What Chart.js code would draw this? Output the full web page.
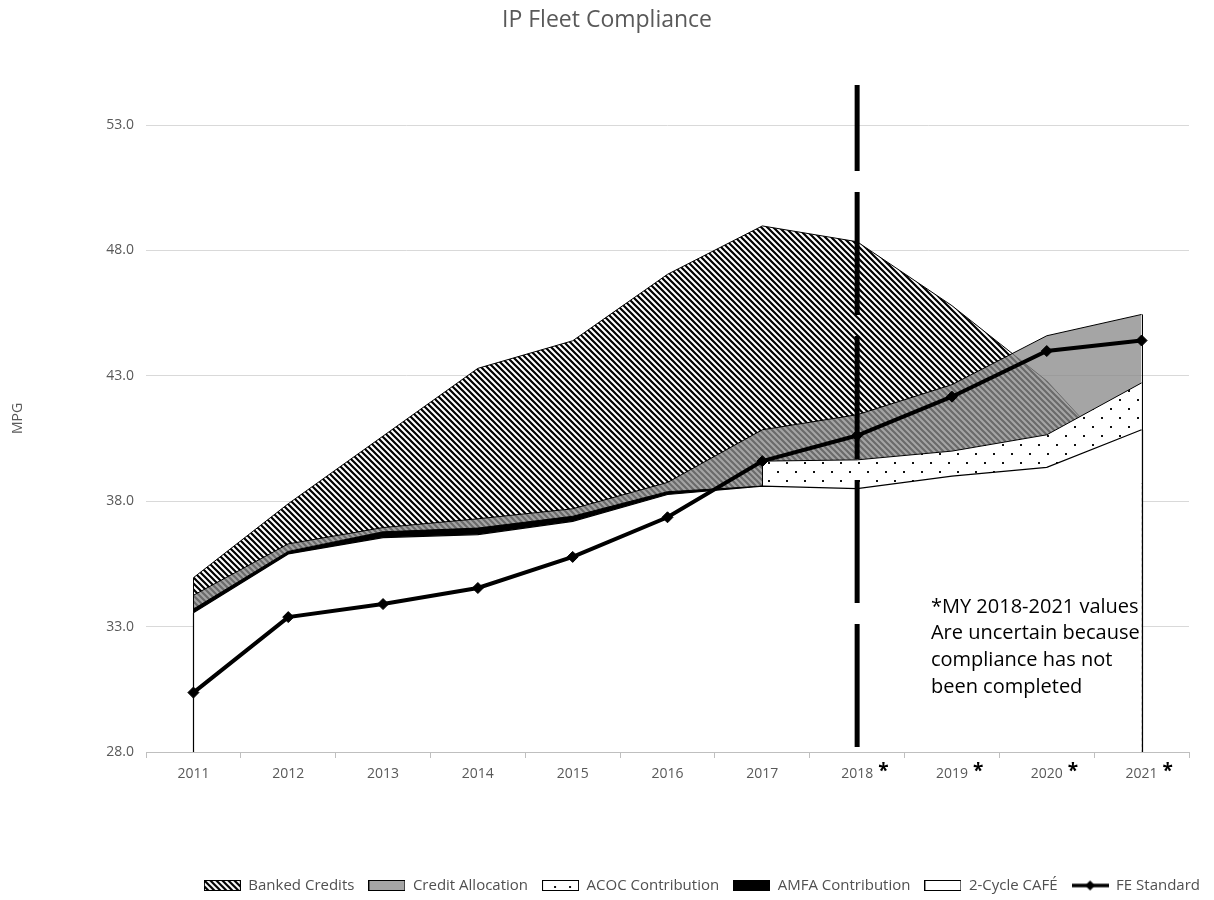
<!DOCTYPE html>
<html>
<head>
<meta charset="utf-8">
<title>IP Fleet Compliance</title>
<script src="https://cdn.jsdelivr.net/npm/chart.js@4/dist/chart.umd.min.js"></script>
<style>
  html, body { margin: 0; padding: 0; background: #ffffff; }
  #wrap { width: 1214px; height: 900px; }
</style>
</head>
<body>
<div id="wrap"><canvas id="chart" width="1214" height="900"></canvas></div>
<script>
// Model years on the category axis
const YEARS = ['2011', '2012', '2013', '2014', '2015', '2016', '2017', '2018', '2019', '2020', '2021'];
// Years whose values are still provisional (flagged with an asterisk)
const PROVISIONAL_YEARS = ['2018', '2019', '2020', '2021'];

// Cumulative MPG levels reached by each compliance component (each area is filled from the axis)
const BANKED_CREDITS      = [34.95, 37.9, 40.6, 43.3, 44.4, 47.05, 48.98, 48.35, 45.8, 42.8, 38.7];
const CREDIT_ALLOCATION   = [34.25, 36.3, 36.95, 37.3, 37.7, 38.75, 40.85, 41.45, 42.65, 44.6, 45.45];
const ACOC_CONTRIBUTION   = [null, null, null, null, null, null, 39.6, 39.65, 40.0, 40.65, 42.72];
const AMFA_CONTRIBUTION   = [33.7, 36.0, 36.78, 36.93, 37.4, 38.38, 38.6, null, null, null, null];
const TWO_CYCLE_CAFE      = [33.55, 35.9, 36.55, 36.67, 37.2, 38.27, 38.6, 38.5, 39.0, 39.35, 40.85];
// Fuel economy standard
const FE_STANDARD         = [30.37, 33.38, 33.9, 34.54, 35.78, 37.36, 39.6, 40.62, 42.17, 43.99, 44.41];

// Value axis
const Y_MIN = 28;
const Y_MAX = 54.6;
const Y_TICKS = [28, 33, 38, 43, 48, 53];

// Divider before the provisional years
const DIVIDER_YEAR = '2018';

const NOTE_LINES = ['*MY 2018-2021 values', 'Are uncertain because', 'compliance has not', 'been completed'];

Chart.defaults.font.family = "'Open Sans', 'Liberation Sans', sans-serif";
Chart.defaults.color = '#595959';

// ---- fill tiles -------------------------------------------------------
function hatchTile() {
  const s = 6;
  const c = document.createElement('canvas');
  c.width = s; c.height = s;
  const g = c.getContext('2d');
  g.fillStyle = '#ffffff';
  g.fillRect(0, 0, s, s);
  g.strokeStyle = '#000000';
  g.lineWidth = 2.2;
  g.beginPath();
  for (let k = -1; k <= 1; k++) {
    g.moveTo(k * s - 1, -1);
    g.lineTo(k * s + s + 1, s + 1);
  }
  g.stroke();
  return c;
}

function dotTile() {
  const s = 18;
  const c = document.createElement('canvas');
  c.width = s; c.height = s;
  const g = c.getContext('2d');
  g.fillStyle = '#ffffff';
  g.fillRect(0, 0, s, s);
  g.fillStyle = '#111111';
  g.fillRect(3, 3, 2, 2);
  g.fillRect(12, 12, 2, 2);
  return c;
}

const HATCH = hatchTile();
const DOTS = dotTile();
const ALLOC_GRAY = 'rgba(138,138,138,0.77)';

const canvas = document.getElementById('chart');
const ctx = canvas.getContext('2d');
const hatchFill = ctx.createPattern(HATCH, 'repeat');
const dotFill = ctx.createPattern(DOTS, 'repeat');

// ---- legend swatches --------------------------------------------------
function areaSwatch(paint) {
  const c = document.createElement('canvas');
  c.width = 37; c.height = 11;
  const g = c.getContext('2d');
  g.fillStyle = '#ffffff';
  g.fillRect(0, 0, 37, 11);
  paint(g);
  g.strokeStyle = '#000000';
  g.lineWidth = 1;
  g.strokeRect(0.5, 0.5, 36, 10);
  return c;
}

function lineSwatch() {
  const c = document.createElement('canvas');
  c.width = 37; c.height = 12;
  const g = c.getContext('2d');
  g.strokeStyle = '#000000';
  g.lineWidth = 3.5;
  g.beginPath();
  g.moveTo(0, 6); g.lineTo(37, 6);
  g.stroke();
  g.fillStyle = '#000000';
  g.beginPath();
  g.moveTo(18.5, 1); g.lineTo(23.5, 6); g.lineTo(18.5, 11); g.lineTo(13.5, 6);
  g.closePath();
  g.fill();
  return c;
}

const SWATCHES = [
  areaSwatch(g => { g.fillStyle = g.createPattern(HATCH, 'repeat'); g.fillRect(0, 0, 37, 11); }),
  areaSwatch(g => { g.fillStyle = ALLOC_GRAY; g.fillRect(0, 0, 37, 11); }),
  areaSwatch(g => { g.fillStyle = '#111'; g.fillRect(12, 6, 2, 2); g.fillRect(27, 6, 2, 2); }),
  areaSwatch(g => { g.fillStyle = '#000000'; g.fillRect(0, 0, 37, 11); }),
  areaSwatch(() => {}),
  lineSwatch()
];

// ---- plugins ----------------------------------------------------------
// Closes each filled area with its vertical end edges, as the areas are outlined polygons.
const areaEdges = {
  id: 'areaEdges',
  afterDatasetDraw(chart, args) {
    const ds = chart.data.datasets[args.index];
    if (!ds.closeEdges) return;
    const pts = args.meta.data.filter(p => !p.skip);
    if (!pts.length) return;
    const bottom = chart.scales.y.bottom;
    const c = chart.ctx;
    const a = chart.chartArea;
    c.save();
    c.beginPath();
    c.rect(a.left, a.top, a.right - a.left, a.bottom - a.top);
    c.clip();
    c.strokeStyle = ds.borderColor;
    c.lineWidth = ds.borderWidth;
    c.beginPath();
    [pts[0], pts[pts.length - 1]].forEach(p => {
      const x = Math.round(p.x) + 0.5;
      c.moveTo(x, p.y);
      c.lineTo(x, bottom);
    });
    c.stroke();
    c.restore();
  }
};

// Asterisks on the provisional year labels and the explanatory note.
const notes = {
  id: 'notes',
  afterDraw(chart) {
    const x = chart.scales.x;
    const y = chart.scales.y;
    const c = chart.ctx;
    c.save();
    c.fillStyle = '#000000';
    c.font = "bold 19px 'Open Sans', sans-serif";
    c.textAlign = 'left';
    c.textBaseline = 'middle';
    PROVISIONAL_YEARS.forEach(yr => {
      const px = x.getPixelForValue(YEARS.indexOf(yr));
      c.fillText('*', px + 21, x.top + 20);
    });
    c.font = "20px 'Open Sans', sans-serif";
    const left = x.getPixelForValue(YEARS.indexOf('2019')) - 21;
    const top = y.getPixelForValue(33.78);
    NOTE_LINES.forEach((line, i) => c.fillText(line, left, top + i * 26.7));
    c.restore();
  }
};

// ---- chart ------------------------------------------------------------
new Chart(ctx, {
  type: 'line',
  data: {
    labels: YEARS,
    datasets: [
      { label: 'Banked Credits', data: BANKED_CREDITS, backgroundColor: hatchFill, borderColor: '#000000', borderWidth: 1, fill: 'start', pointRadius: 0, order: 6, closeEdges: true },
      { label: 'Credit Allocation', data: CREDIT_ALLOCATION, backgroundColor: ALLOC_GRAY, borderColor: '#000000', borderWidth: 1, fill: 'start', pointRadius: 0, order: 5, closeEdges: true },
      { label: 'ACOC Contribution', data: ACOC_CONTRIBUTION, backgroundColor: dotFill, borderColor: '#000000', borderWidth: 1, fill: 'start', pointRadius: 0, order: 4, closeEdges: true },
      { label: 'AMFA Contribution', data: AMFA_CONTRIBUTION, backgroundColor: '#000000', borderColor: '#000000', borderWidth: 1, fill: 'start', pointRadius: 0, order: 3 },
      { label: '2-Cycle CAFÉ', data: TWO_CYCLE_CAFE, backgroundColor: '#ffffff', borderColor: '#000000', borderWidth: 1.2, fill: 'start', pointRadius: 0, order: 2, closeEdges: true },
      { label: 'FE Standard', data: FE_STANDARD, borderColor: '#000000', backgroundColor: '#000000', borderWidth: 4, fill: false,
        pointStyle: 'rectRot', pointRadius: 5.5, pointBackgroundColor: '#000000', pointBorderColor: '#000000', pointBorderWidth: 1, order: 1 },
      { label: 'divider', data: [{ x: DIVIDER_YEAR, y: Y_MIN }, { x: DIVIDER_YEAR, y: Y_MAX }], borderColor: '#000000', borderWidth: 5,
        borderDash: [123, 21], borderDashOffset: 139, borderCapStyle: 'butt', pointRadius: 0, fill: false, order: 0 }
    ]
  },
  options: {
    responsive: false,
    animation: false,
    events: [],
    layout: { padding: { left: 0, right: 0, top: 0, bottom: -3 } },
    scales: {
      x: {
        offset: true,
        grid: { offset: true, drawOnChartArea: false, drawTicks: true, tickLength: 6, color: '#bfbfbf' },
        border: { display: true, color: '#bfbfbf', width: 1 },
        ticks: { color: '#595959', font: { size: 14 }, padding: 8, maxRotation: 0, autoSkip: false },
        afterFit(s) { s.height = 112; }
      },
      y: {
        min: Y_MIN,
        max: Y_MAX,
        afterBuildTicks(s) { s.ticks = Y_TICKS.map(v => ({ value: v })); },
        ticks: { color: '#595959', font: { size: 14 }, padding: 12, callback: v => Number(v).toFixed(1) },
        grid: { color: '#d9d9d9', lineWidth: 1, drawTicks: false },
        border: { display: false },
        title: { display: true, text: 'MPG', color: '#595959', font: { size: 14 }, padding: { top: 10, bottom: 0 } },
        afterFit(s) { s.width = 146; }
      },
      // empty right-hand margin beside the plot
      margin: {
        type: 'linear',
        position: 'right',
        display: true,
        grid: { display: false },
        border: { display: false },
        ticks: { display: false },
        afterFit(s) { s.width = 25; }
      }
    },
    plugins: {
      title: {
        display: true,
        text: 'IP Fleet Compliance',
        color: '#595959',
        font: { size: 23, weight: 'normal' },
        padding: { top: 7, bottom: 50.4 }
      },
      legend: {
        position: 'bottom',
        align: 'end',
        labels: {
          usePointStyle: true,
          pointStyleWidth: 37,
          padding: 14,
          color: '#505050',
          font: { size: 15 },
          generateLabels(chart) {
            const base = Chart.defaults.plugins.legend.labels.generateLabels(chart);
            return base.map(item => Object.assign({}, item, { pointStyle: SWATCHES[item.datasetIndex] }));
          },
          filter: item => item.datasetIndex < 6,
          sort: (a, b) => a.datasetIndex - b.datasetIndex
        }
      },
      tooltip: { enabled: false }
    }
  },
  plugins: [areaEdges, notes]
});
</script>
</body>
</html>
